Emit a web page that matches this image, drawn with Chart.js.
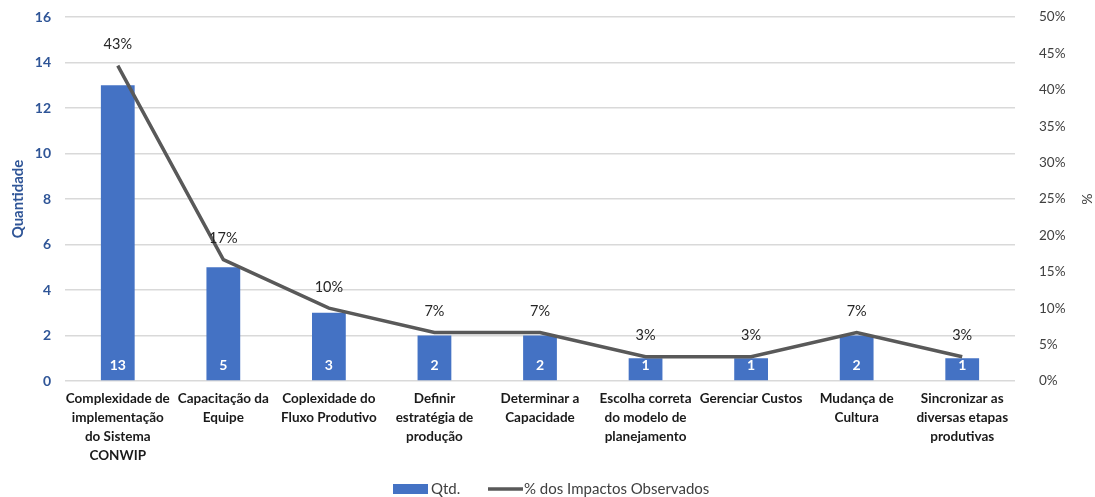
<!DOCTYPE html>
<html>
<head>
<meta charset="utf-8">
<script src="https://cdn.jsdelivr.net/npm/chart.js@4"></script>
<style>
  html, body { margin: 0; padding: 0; background: #fff; }
  #wrap { width: 1095px; height: 497px; position: relative; }
</style>
</head>
<body>
<div id="wrap"><canvas id="c" width="1095" height="497"></canvas></div>
<script>
// Categories (multi-line labels)
const categories = [
  ["Complexidade de", "implementação", "do Sistema", "CONWIP"],
  ["Capacitação da", "Equipe"],
  ["Coplexidade do", "Fluxo Produtivo"],
  ["Definir", "estratégia de", "produção"],
  ["Determinar a", "Capacidade"],
  ["Escolha correta", "do modelo de", "planejamento"],
  ["Gerenciar Custos"],
  ["Mudança de", "Cultura"],
  ["Sincronizar as", "diversas etapas", "produtivas"]
];
// Quantidade per category
const qtd = [13, 5, 3, 2, 2, 1, 1, 2, 1];
// % dos Impactos Observados
const pct = [43.33, 16.67, 10, 6.67, 6.67, 3.33, 3.33, 6.67, 3.33];
// Axis ticks
const leftTicks = [0, 2, 4, 6, 8, 10, 12, 14, 16];
const rightTicks = [0, 5, 10, 15, 20, 25, 30, 35, 40, 45, 50];

const BLUE = '#4472C4';
const AXIS_BLUE = '#2F5597';
const GRAY = '#595959';
const FONT = 'Lato, "Open Sans", "Liberation Sans", sans-serif';

// Value labels: counts inside bars, percentages above line points
const valueLabels = {
  id: 'valueLabels',
  afterDatasetsDraw(chart) {
    const ctx = chart.ctx;
    ctx.save();
    ctx.textAlign = 'center';
    ctx.textBaseline = 'middle';
    const barMeta = chart.getDatasetMeta(0);
    ctx.font = 'bold 14px ' + FONT;
    ctx.fillStyle = '#ffffff';
    barMeta.data.forEach((el, i) => {
      ctx.fillText(String(qtd[i]), el.x, el.base - 15);
    });
    const lineMeta = chart.getDatasetMeta(1);
    ctx.font = '14.5px ' + FONT;
    ctx.fillStyle = '#262626';
    lineMeta.data.forEach((el, i) => {
      ctx.fillText(Math.round(pct[i]) + '%', el.x, el.y - 21);
    });
    ctx.restore();
  }
};

// Bottom legend
const bottomLegend = {
  id: 'bottomLegend',
  afterDraw(chart) {
    const ctx = chart.ctx;
    ctx.save();
    const y = 489;
    ctx.font = '15px ' + FONT;
    ctx.textBaseline = 'middle';
    ctx.textAlign = 'left';
    ctx.fillStyle = BLUE;
    ctx.fillRect(393, y - 5, 35, 10);
    ctx.fillStyle = '#404040';
    ctx.fillText(chart.data.datasets[0].label, 431, y);
    ctx.strokeStyle = GRAY;
    ctx.lineWidth = 3.5;
    ctx.beginPath();
    ctx.moveTo(488, y);
    ctx.lineTo(523, y);
    ctx.stroke();
    ctx.fillText(chart.data.datasets[1].label, 524, y);
    ctx.restore();
  }
};

// Remove automatic label padding so the plot area follows layout.padding
const noAutoPad = s => { s.paddingTop = 0; s.paddingBottom = 0; };

new Chart(document.getElementById('c'), {
  type: 'bar',
  data: {
    labels: categories,
    datasets: [
      {
        type: 'bar',
        label: 'Qtd.',
        data: qtd,
        backgroundColor: BLUE,
        yAxisID: 'y',
        barPercentage: 0.64,
        categoryPercentage: 0.5,
        order: 2
      },
      {
        type: 'line',
        label: '% dos Impactos Observados',
        data: pct,
        borderColor: GRAY,
        borderWidth: 3.5,
        pointRadius: 0,
        tension: 0,
        fill: false,
        yAxisID: 'y1',
        order: 1
      }
    ]
  },
  options: {
    responsive: false,
    animation: false,
    devicePixelRatio: 1,
    layout: { padding: { top: 17, bottom: 0, left: 0, right: 0 } },
    plugins: {
      legend: { display: false },
      tooltip: { enabled: false }
    },
    scales: {
      x: {
        grid: { display: false },
        border: { display: false },
        ticks: {
          color: '#1a1a1a',
          font: { family: FONT, size: 13.5, weight: 'bold', lineHeight: 1.42 },
          maxRotation: 0,
          autoSkip: false,
          padding: 0
        },
        afterFit(s) { s.height = 116; noAutoPad(s); }
      },
      y: {
        position: 'left',
        min: 0, max: 16,
        afterBuildTicks(s) { s.ticks = leftTicks.map(v => ({ value: v })); },
        grid: { color: '#D9D9D9', lineWidth: 1.5, drawTicks: false },
        border: { display: false },
        ticks: {
          color: AXIS_BLUE,
          font: { family: FONT, size: 14, weight: 'bold' },
          padding: 14
        },
        title: {
          display: true,
          text: 'Quantidade',
          color: AXIS_BLUE,
          font: { family: FONT, size: 15, weight: 'bold' },
          padding: { top: 9, bottom: 0 }
        },
        afterFit(s) { s.width = 65; noAutoPad(s); }
      },
      y1: {
        position: 'right',
        min: 0, max: 50,
        afterBuildTicks(s) { s.ticks = rightTicks.map(v => ({ value: v })); },
        grid: { display: false, drawTicks: false },
        border: { display: false },
        ticks: {
          color: '#404040',
          font: { family: FONT, size: 13.5 },
          padding: 24,
          callback: v => v + '%'
        },
        title: {
          display: true,
          text: '%',
          color: '#404040',
          font: { family: FONT, size: 14 },
          padding: { top: 0, bottom: 2 }
        },
        afterFit(s) { s.width = 80; noAutoPad(s); }
      }
    }
  },
  plugins: [valueLabels, bottomLegend]
});
</script>
</body>
</html>
